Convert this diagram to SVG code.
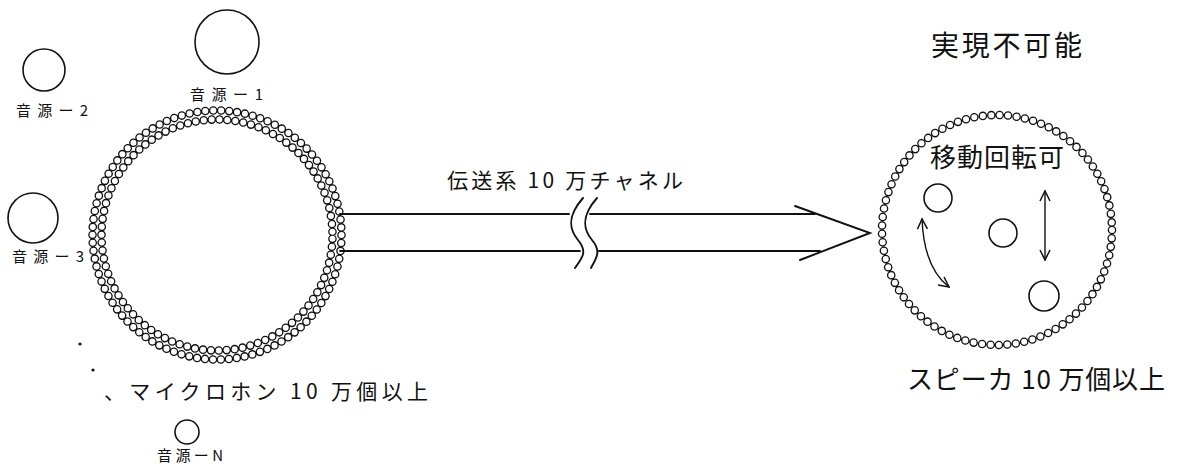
<svg xmlns="http://www.w3.org/2000/svg" width="1177" height="475" viewBox="0 0 1177 475">
<style>
.bg{fill:#ffffff}
.src{fill:none;stroke:#111;stroke-width:1.6}
.ln{fill:none;stroke:#111;stroke-width:1.9;stroke-linecap:round}
.thin{fill:none;stroke:#111;stroke-width:1.4;stroke-linecap:round}
.lbl{font-family:"Noto Sans CJK JP","Noto Sans",sans-serif;fill:#111}
.s{font-size:15px}
.m{font-size:21px}
.b{font-size:26px}
.dotk{fill:none;stroke:#111;stroke-linecap:round}
.dotw{fill:none;stroke:#fff;stroke-linecap:round}
</style>
<defs>
<marker id="ah" viewBox="0 0 12 12" refX="11" refY="6" markerWidth="12" markerHeight="12" markerUnits="userSpaceOnUse" orient="auto-start-reverse">
<path d="M1,1 L11,6 L1,11" fill="none" stroke="#111" stroke-width="1.5"/>
</marker>
</defs>
<rect class="bg" x="0" y="0" width="1177" height="475"/>

<g id="source-1">
<circle class="src" cx="227" cy="42" r="32"/>
<text class="lbl s" x="190" y="100" textLength="73" lengthAdjust="spacing">音源ー1</text>
</g>
<g id="source-2">
<circle class="src" cx="44" cy="70" r="21"/>
<text class="lbl s" x="16" y="116" textLength="72" lengthAdjust="spacing">音源ー2</text>
</g>
<g id="source-3">
<circle class="src" cx="33" cy="218" r="25"/>
<text class="lbl s" x="12" y="262" textLength="72" lengthAdjust="spacing">音源ー3</text>
</g>
<g id="source-dots">
<circle cx="80" cy="344" r="1.6" fill="#111"/>
<circle cx="93" cy="370" r="1.6" fill="#111"/>
</g>
<g id="source-N">
<circle class="src" cx="187" cy="432" r="12"/>
<text class="lbl s" x="157" y="461" textLength="66" lengthAdjust="spacing">音源ーN</text>
</g>

<g id="microphone-array">
<circle class="dotk" cx="217" cy="235" r="124.5" stroke-width="8.6" stroke-dasharray="0 7.98221"/>
<circle class="dotw" cx="217" cy="235" r="124.5" stroke-width="6" stroke-dasharray="0 7.98221"/>
<circle class="dotk" cx="217" cy="235" r="115.5" stroke-width="8.6" stroke-dasharray="0 7.97481" stroke-dashoffset="4"/>
<circle class="dotw" cx="217" cy="235" r="115.5" stroke-width="6" stroke-dasharray="0 7.97481" stroke-dashoffset="4"/>
<text class="lbl m" x="104" y="399" textLength="324" lengthAdjust="spacing">、マイクロホン 10 万個以上</text>
</g>

<g id="transmission">
<text class="lbl m" x="447" y="188" textLength="236" lengthAdjust="spacing">伝送系 10 万チャネル</text>
</g>

<g id="connectors">
<path class="ln" d="M340,214 H569 M590,214 H815"/>
<path class="ln" d="M340,251 H580 M599,251 H820"/>
<path class="ln" d="M795,206 L870,233 L800,260"/>
<path class="ln" d="M583,198 C568,215 568,228 578,240 C588,252 582,258 575,268"/>
<path class="ln" d="M597,198 C582,215 582,228 592,240 C602,252 596,258 591,268"/>
<path class="thin" d="M1045,191 V260" marker-start="url(#ah)" marker-end="url(#ah)"/>
<path class="thin" d="M922,219 Q924,268 949,287" marker-start="url(#ah)" marker-end="url(#ah)"/>
</g>

<g id="speaker-array">
<circle class="dotk" cx="997" cy="230" r="115" stroke-width="8.6" stroke-dasharray="0 8.50078"/>
<circle class="dotw" cx="997" cy="230" r="115" stroke-width="6" stroke-dasharray="0 8.50078"/>
<text class="lbl b" x="930" y="167" textLength="134" lengthAdjust="spacing">移動回転可</text>
<text class="lbl b" x="907" y="389" textLength="258" lengthAdjust="spacing">スピーカ 10 万個以上</text>
</g>
<g id="listener-1"><circle class="src" cx="938" cy="198" r="14"/></g>
<g id="listener-2"><circle class="src" cx="1003" cy="233" r="14"/></g>
<g id="listener-3"><circle class="src" cx="1044" cy="296" r="15"/></g>

<g id="title">
<text class="lbl" x="931" y="56" font-size="28" textLength="151" lengthAdjust="spacing">実現不可能</text>
</g>
</svg>
